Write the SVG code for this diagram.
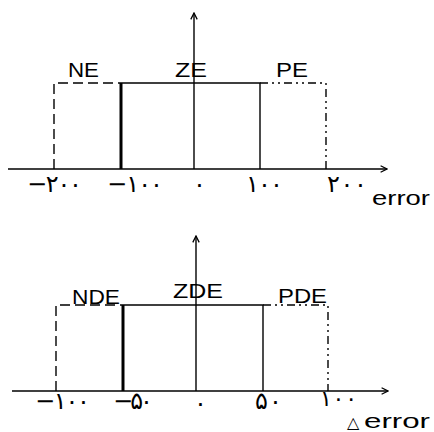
<svg xmlns="http://www.w3.org/2000/svg" width="434" height="432" viewBox="0 0 434 432">
<style>
.ln{stroke:#000;stroke-width:1.4;fill:none}
.thick{stroke:#000;stroke-width:3;fill:none}
.dash{stroke:#000;stroke-width:1.4;fill:none;stroke-dasharray:10 5}
.dd{stroke:#000;stroke-width:1.4;fill:none;stroke-dasharray:8 4 2 4 2 4}
.lbl{font-family:"Liberation Sans",Arial,sans-serif;font-size:21px;fill:#000}
.tk{font-family:"DejaVu Sans",sans-serif;font-size:24px;fill:#000}
</style>
<defs>
<marker id="ar" viewBox="0 0 10 10" refX="9" refY="5" markerWidth="8" markerHeight="8" markerUnits="userSpaceOnUse" orient="auto">
<path d="M1,1 L9,5 L1,9" stroke="#000" stroke-width="1.6" fill="none"/>
</marker>
</defs>
<g id="connectors">
<line class="ln" x1="8" y1="169" x2="387" y2="169" marker-end="url(#ar)"/>
<line class="ln" x1="194" y1="169" x2="194" y2="13" marker-end="url(#ar)"/>
<line class="ln" x1="12" y1="391" x2="388" y2="391" marker-end="url(#ar)"/>
<line class="ln" x1="196" y1="391" x2="196" y2="236" marker-end="url(#ar)"/>
</g>
<g id="NE">
<path class="dash" d="M54,169 V83 H121"/>
<text class="lbl" x="68" y="77" textLength="31" lengthAdjust="spacingAndGlyphs">NE</text>
</g>
<g id="ZE">
<line class="thick" x1="121" y1="83" x2="121" y2="169"/>
<path class="ln" d="M121,83 H260 V169"/>
<text class="lbl" x="175" y="77" textLength="32" lengthAdjust="spacingAndGlyphs">ZE</text>
</g>
<g id="PE">
<path class="dd" d="M260,83 H326 V169"/>
<text class="lbl" x="276" y="77" textLength="32" lengthAdjust="spacingAndGlyphs">PE</text>
</g>
<g id="ticks1">
<text class="tk" x="27" y="192" textLength="55" lengthAdjust="spacing">−۲۰۰</text>
<text class="tk" x="107" y="192" textLength="56" lengthAdjust="spacing">−۱۰۰</text>
<text class="tk" x="193" y="192">۰</text>
<text class="tk" x="246" y="192" textLength="37" lengthAdjust="spacing">۱۰۰</text>
<text class="tk" x="327" y="192" textLength="40" lengthAdjust="spacing">۲۰۰</text>
<text class="lbl" x="372" y="205" textLength="58" lengthAdjust="spacingAndGlyphs">error</text>
</g>
<g id="NDE">
<path class="dash" d="M56,391 V305 H123"/>
<text class="lbl" x="72" y="304" textLength="48" lengthAdjust="spacingAndGlyphs">NDE</text>
</g>
<g id="ZDE">
<line class="thick" x1="123" y1="305" x2="123" y2="391"/>
<path class="ln" d="M123,305 H263 V391"/>
<text class="lbl" x="173" y="298" textLength="50" lengthAdjust="spacingAndGlyphs">ZDE</text>
</g>
<g id="PDE">
<path class="dd" d="M263,305 H328 V391"/>
<text class="lbl" x="278" y="303" textLength="49" lengthAdjust="spacingAndGlyphs">PDE</text>
</g>
<g id="ticks2">
<text class="tk" x="35" y="409" textLength="55" lengthAdjust="spacing">−۱۰۰</text>
<text class="tk" x="113" y="409" textLength="40" lengthAdjust="spacing">−۵۰</text>
<text class="tk" x="194" y="411">۰</text>
<text class="tk" x="255" y="409" textLength="27" lengthAdjust="spacing">۵۰</text>
<text class="tk" x="320" y="406" textLength="37" lengthAdjust="spacing" style="font-size:22px">۱۰۰</text>
<text class="lbl" x="347" y="428" style="font-size:16px">△</text>
<text class="lbl" x="364" y="428" textLength="66" lengthAdjust="spacingAndGlyphs">error</text>
</g>
</svg>
